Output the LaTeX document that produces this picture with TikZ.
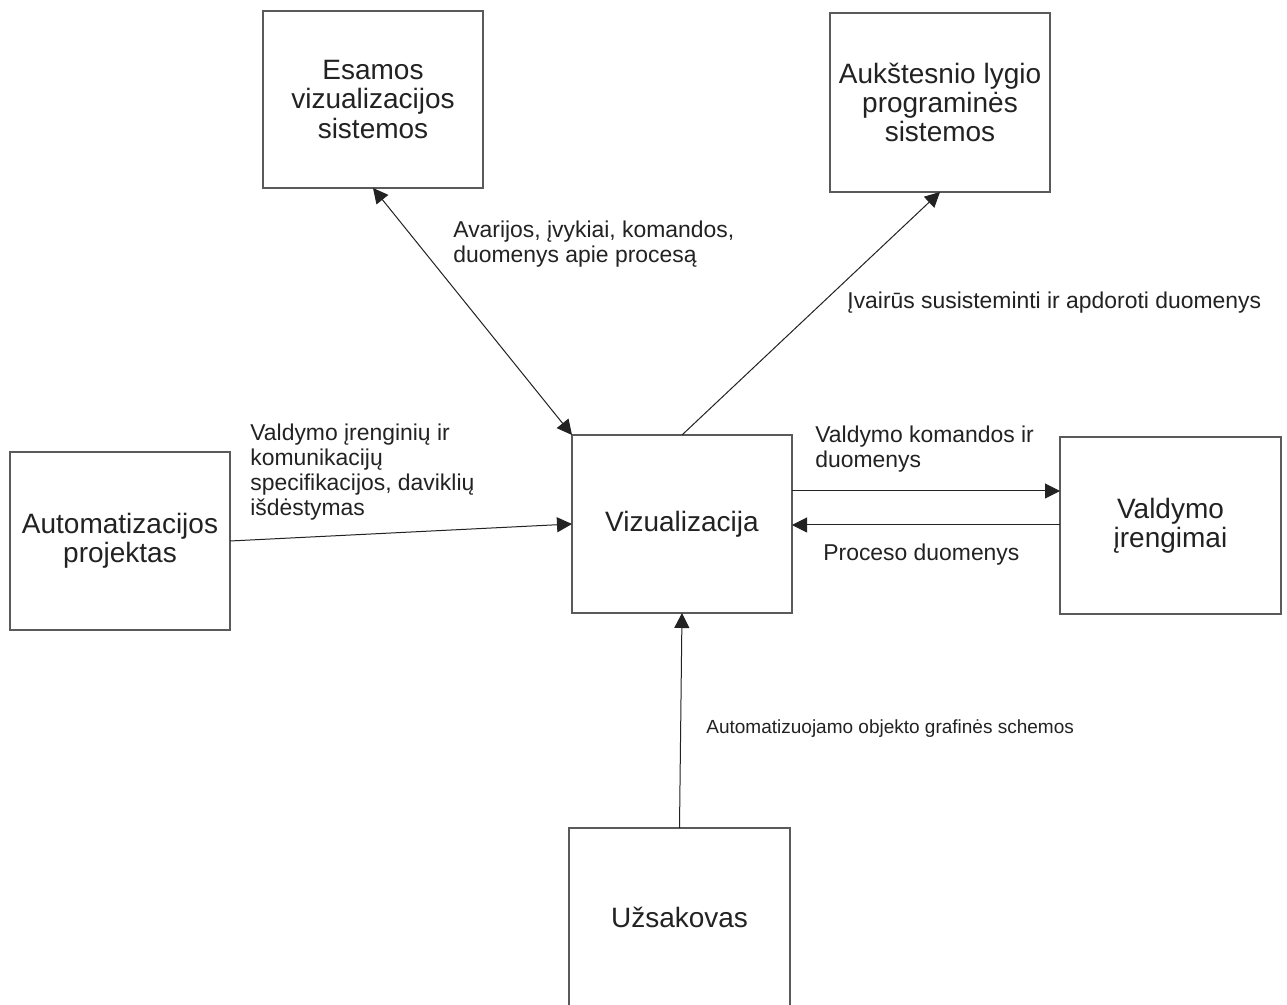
\documentclass[tikz,border=0pt]{standalone}
\usepackage{fontspec}
\setmainfont{Liberation Sans}
\usetikzlibrary{arrows.meta}
\definecolor{frame}{HTML}{5A5A5A}
\definecolor{ink}{HTML}{222222}
\begin{document}
\begin{tikzpicture}[x=0.5pt,y=-0.5pt,
  box/.style={draw=frame,line width=0.7pt,fill=white,inner sep=0pt,outer sep=0pt,
    align=center,text=ink,font=\fontsize{14}{14.7}\selectfont},
  lbl/.style={inner sep=0pt,align=left,text=ink,font=\fontsize{11.45}{12.4}\selectfont},
  flow/.style={draw=ink,line width=0.5pt,-{Triangle[length=7.5pt,width=7.5pt]}},
  both/.style={draw=ink,line width=0.5pt,{Triangle[length=7.5pt,width=7.5pt]}-{Triangle[length=7.5pt,width=7.5pt]}}]
\clip (0,0) rectangle (1287,1005);
\fill[white] (0,0) rectangle (1287,1005);

% boxes
\node[box,minimum width=110pt,minimum height=88.5pt] (esamos) at (373,99.5)
  {Esamos\\vizualizacijos\\sistemos};
\node[box,minimum width=110pt,minimum height=89.5pt] (aukst) at (940,102.5)
  {Aukštesnio lygio\\programinės\\sistemos};
\node[box,minimum width=110pt,minimum height=89pt] (autom) at (120,541)
  {Automatizacijos\\projektas};
\node[box,minimum width=110pt,minimum height=89pt] (viz) at (682,524)
  {Vizualizacija};
\node[box,minimum width=110.5pt,minimum height=88.5pt] (vald) at (1170.5,525.5)
  {Valdymo\\įrengimai};
\node[box,minimum width=110.5pt,minimum height=89pt] (uzs) at (679.5,917)
  {Užsakovas};

% connectors
\draw[both] (esamos.south) -- (viz.north west);
\draw[flow] (viz.north) -- (aukst.south);
\draw[flow] (autom.east) -- (viz.west);
\draw[flow] (viz.east |- 0,491) -- (vald.west |- 0,491);
\draw[flow] (vald.west |- 0,525) -- (viz.east |- 0,525);
\draw[flow] (uzs.north) -- (viz.south);

% connector labels
\node[lbl,anchor=north west] (lavar) at (453,221)
  {Avarijos, įvykiai, komandos,\\duomenys apie procesą};
\node[lbl,anchor=north west] (livair) at (847,292)
  {Įvairūs susisteminti ir apdoroti duomenys};
\node[lbl,anchor=north west] (lspec) at (250,424)
  {Valdymo įrenginių ir\\komunikacijų\\specifikacijos, daviklių\\išdėstymas};
\node[lbl,anchor=north west] (lkom) at (815,426)
  {Valdymo komandos ir\\duomenys};
\node[lbl,anchor=north west] (lproc) at (823,544)
  {Proceso duomenys};
\node[lbl,anchor=north west,font=\fontsize{9.5}{10.5}\selectfont] (lgraf) at (706,719)
  {Automatizuojamo objekto grafinės schemos};
\end{tikzpicture}
\end{document}
